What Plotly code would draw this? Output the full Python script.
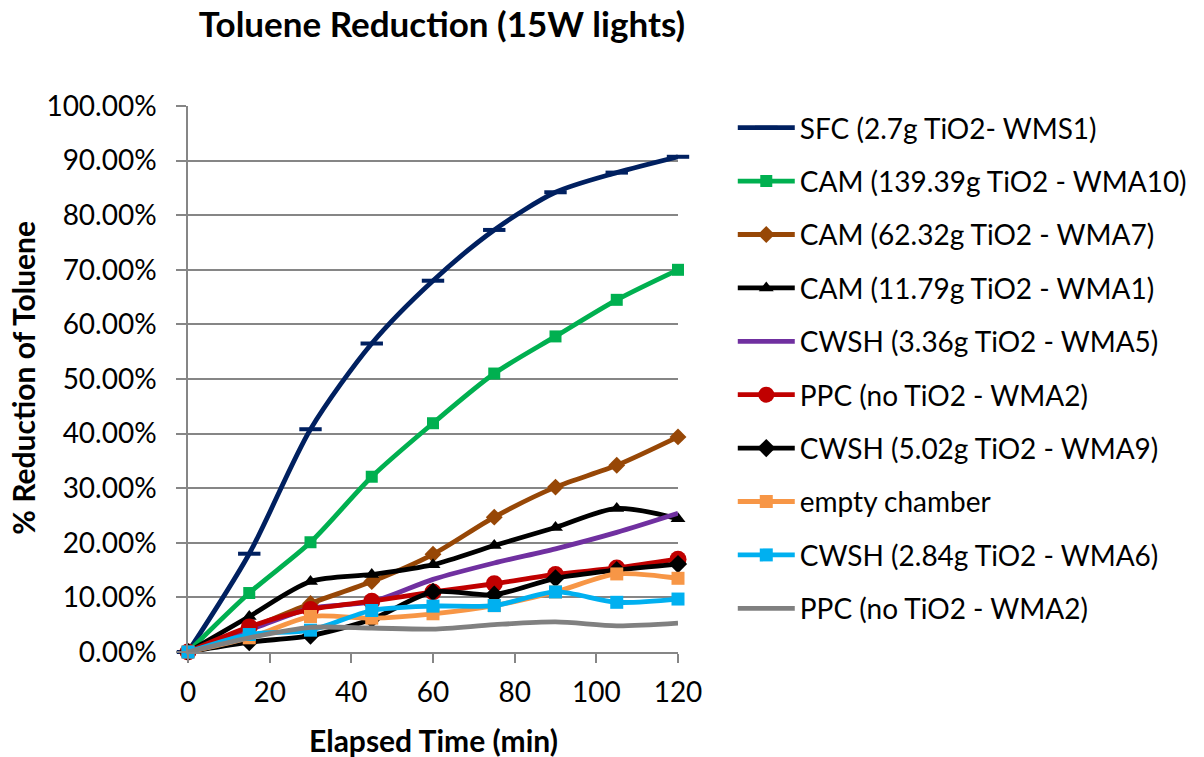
import plotly.graph_objects as go

time_min = [0, 15, 30, 45, 60, 75, 90, 105, 120]

sfc_wms1 = [0, 18.0, 40.8, 56.5, 68.0, 77.3, 84.2, 87.8, 90.7]
cam_wma10 = [0, 10.8, 20.1, 32.1, 41.9, 51.0, 57.8, 64.5, 70.0]
cam_wma7 = [0, 4.3, 8.9, 12.9, 17.9, 24.7, 30.2, 34.2, 39.4]
cam_wma1 = [0, 6.5, 12.9, 14.2, 16.0, 19.5, 22.8, 26.3, 24.4]
cwsh_wma5 = [0, 4.0, 8.0, 9.2, 13.3, 16.3, 18.9, 21.9, 25.4]
ppc_wma2_red = [0, 4.6, 7.8, 9.3, 11.0, 12.5, 14.2, 15.4, 17.0]
cwsh_wma9 = [0, 1.8, 3.0, 6.0, 11.0, 10.5, 13.5, 15.0, 16.1]
empty_chamber = [0, 2.6, 6.5, 6.2, 7.0, 8.5, 11.0, 14.3, 13.5]
cwsh_wma6 = [0, 3.2, 4.0, 7.6, 8.4, 8.5, 11.0, 9.1, 9.7]
ppc_wma2_gray = [0, 2.6, 4.5, 4.4, 4.2, 5.0, 5.5, 4.8, 5.3]

series_names = [
    "SFC (2.7g TiO2- WMS1)",
    "CAM (139.39g TiO2 - WMA10)",
    "CAM (62.32g TiO2 - WMA7)",
    "CAM (11.79g TiO2 - WMA1)",
    "CWSH (3.36g TiO2 - WMA5)",
    "PPC (no TiO2 - WMA2)",
    "CWSH (5.02g TiO2 - WMA9)",
    "empty chamber",
    "CWSH (2.84g TiO2 - WMA6)",
    "PPC (no TiO2 - WMA2)",
]
series_values = [sfc_wms1, cam_wma10, cam_wma7, cam_wma1, cwsh_wma5,
                 ppc_wma2_red, cwsh_wma9, empty_chamber, cwsh_wma6, ppc_wma2_gray]
colors = ["#002060", "#00B050", "#974706", "#000000", "#7030A0",
          "#C00000", "#000000", "#F79646", "#00B0F0", "#808080"]
symbols = ["line-ew", "square", "diamond", "triangle-up", None,
           "circle", "diamond", "square", "square", None]
sizes = [16, 12, 13, 13, 0, 17, 14, 13, 13, 0]

FONT = "Lato"
fig = go.Figure()
for i, (name, vals, col, sym, sz) in enumerate(zip(series_names, series_values, colors, symbols, sizes)):
    y = [v / 100 for v in vals]
    if sym is None:
        mode = "lines"
        marker = None
    elif sym == "line-ew":
        mode = "lines+markers"
        marker = dict(symbol=sym, size=sz, color=col, line=dict(color=col, width=4))
    else:
        mode = "lines+markers"
        marker = dict(symbol=sym, size=sz, color=col, line=dict(width=0))
    fig.add_trace(go.Scatter(
        x=time_min, y=y, name=name, mode=mode,
        line=dict(color=col, width=4.8, shape="spline", smoothing=0.8),
        marker=marker, cliponaxis=False, legendgroup="g%d" % i,
    ))

fig.update_layout(
    width=1204, height=757,
    margin=dict(l=188, r=524, t=106, b=105),
    paper_bgcolor="white", plot_bgcolor="white",
    font=dict(family=FONT, color="black", size=28),
    title=dict(text="<b>Toluene Reduction (15W lights)</b>", x=(443 - 188) / 492, xref="paper",
               xanchor="center", y=1 - 25 / 757, yanchor="middle",
               font=dict(family=FONT, size=35, color="black")),
    showlegend=True,
    legend=dict(x=(735 - 188) / 492, xanchor="left", y=(652 - 103) / 546, yanchor="top",
                font=dict(family=FONT, size=28, color="black"),
                tracegroupgap=14, bgcolor="rgba(0,0,0,0)", itemwidth=57, maxheight=720),
)
fig.update_xaxes(range=[0, 120], dtick=20, tick0=0, showgrid=False, showline=True,
                 linecolor="#868686", linewidth=1.5, ticks="outside", ticklen=9,
                 tickcolor="#868686", tickwidth=1.5, zeroline=False, ticklabelstandoff=6,
                 tickfont=dict(family=FONT, size=28, color="black"))
fig.update_yaxes(range=[0, 1], dtick=0.1, tick0=0, tickformat=".2%", showgrid=True,
                 gridcolor="#868686", gridwidth=1.5, showline=True, linecolor="#868686",
                 linewidth=1.5, ticks="outside", ticklen=10, tickcolor="#868686", tickwidth=1.5,
                 zeroline=False, ticklabelstandoff=14,
                 tickfont=dict(family=FONT, size=28, color="black"))

fig.add_annotation(text="<b>Elapsed Time (min)</b>", xref="paper", yref="paper",
                   x=(434 - 188) / 492, y=(652 - 740) / 546, xanchor="center", yanchor="middle",
                   showarrow=False, font=dict(family=FONT, size=30, color="black"))
fig.add_annotation(text="<b>% Reduction of Toluene</b>", xref="paper", yref="paper",
                   x=(22 - 188) / 492, y=(652 - 378) / 546, xanchor="center", yanchor="middle",
                   textangle=-90, showarrow=False, font=dict(family=FONT, size=30, color="black"))

fig.write_html("out.html")
